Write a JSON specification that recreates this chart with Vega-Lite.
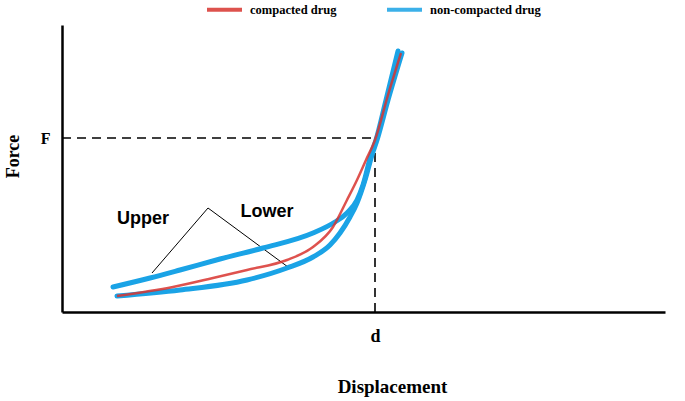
{
  "$schema": "https://vega.github.io/schema/vega-lite/v6.json",
  "width": 603,
  "height": 287,
  "autosize": "none",
  "padding": {"left": 62, "top": 25, "right": 20, "bottom": 89},
  "background": "white",
  "config": {"view": {"stroke": null}},
  "layer": [
    {
      "data": {"values": [
        {"x": 0, "x2": 313, "y": 174, "y2": 174},
        {"x": 313, "x2": 313, "y": 0, "y2": 174}
      ]},
      "mark": {"type": "rule", "strokeDash": [9, 6], "strokeWidth": 1.6, "color": "black"},
      "encoding": {
        "x": {"field": "x", "type": "quantitative",
          "scale": {"domain": [0, 603], "nice": false, "zero": false},
          "axis": {"values": [313], "labelExpr": "'d'", "ticks": false, "grid": false,
            "domainColor": "black", "domainWidth": 2.5,
            "labelFont": "Liberation Serif", "labelFontWeight": "bold", "labelFontSize": 18, "labelColor": "black", "labelPadding": 15,
            "title": "Displacement", "titleFont": "Liberation Serif", "titleFontWeight": "bold", "titleFontSize": 19, "titleColor": "black",
            "titleX": 330, "titleY": 80, "titleBaseline": "alphabetic", "titleAlign": "center"}},
        "x2": {"field": "x2"},
        "y": {"field": "y", "type": "quantitative",
          "scale": {"domain": [0, 287], "nice": false, "zero": false},
          "axis": {"values": [174], "labelExpr": "'F'", "ticks": false, "grid": false,
            "domainColor": "black", "domainWidth": 2.5,
            "labelFont": "Liberation Serif", "labelFontWeight": "bold", "labelFontSize": 16, "labelColor": "black", "labelPadding": 12,
            "title": "Force", "titleFont": "Liberation Serif", "titleFontWeight": "bold", "titleFontSize": 18, "titleColor": "black",
            "titleAngle": -90, "titleX": -40, "titleY": 131, "titleBaseline": "bottom", "titleAlign": "center"}},
        "y2": {"field": "y2"}
      }
    },
    {
      "data": {"values": [
        {"x": 146, "y": 104, "x2": 90, "y2": 39},
        {"x": 146, "y": 104, "x2": 226, "y2": 45}
      ]},
      "mark": {"type": "rule", "strokeWidth": 1, "color": "black"},
      "encoding": {
        "x": {"field": "x", "type": "quantitative"},
        "x2": {"field": "x2"},
        "y": {"field": "y", "type": "quantitative"},
        "y2": {"field": "y2"}
      }
    },
    {
      "data": {"values": [
        {"series": "non-compacted drug", "curve": "upper", "i": 1, "x": 51, "y": 25},
        {"series": "non-compacted drug", "curve": "upper", "i": 2, "x": 88, "y": 34},
        {"series": "non-compacted drug", "curve": "upper", "i": 3, "x": 118, "y": 42},
        {"series": "non-compacted drug", "curve": "upper", "i": 4, "x": 158, "y": 53},
        {"series": "non-compacted drug", "curve": "upper", "i": 5, "x": 201, "y": 64},
        {"series": "non-compacted drug", "curve": "upper", "i": 6, "x": 251, "y": 79},
        {"series": "non-compacted drug", "curve": "upper", "i": 7, "x": 273, "y": 90},
        {"series": "non-compacted drug", "curve": "upper", "i": 8, "x": 285, "y": 99},
        {"series": "non-compacted drug", "curve": "upper", "i": 9, "x": 295, "y": 112},
        {"series": "non-compacted drug", "curve": "upper", "i": 10, "x": 301, "y": 127},
        {"series": "non-compacted drug", "curve": "upper", "i": 11, "x": 309, "y": 157},
        {"series": "non-compacted drug", "curve": "upper", "i": 12, "x": 314, "y": 172},
        {"series": "non-compacted drug", "curve": "upper", "i": 13, "x": 324, "y": 212},
        {"series": "non-compacted drug", "curve": "upper", "i": 14, "x": 336, "y": 261},
        {"series": "non-compacted drug", "curve": "lower", "i": 1, "x": 55, "y": 16},
        {"series": "non-compacted drug", "curve": "lower", "i": 2, "x": 118, "y": 22},
        {"series": "non-compacted drug", "curve": "lower", "i": 3, "x": 185, "y": 32},
        {"series": "non-compacted drug", "curve": "lower", "i": 4, "x": 225, "y": 44},
        {"series": "non-compacted drug", "curve": "lower", "i": 5, "x": 251, "y": 55},
        {"series": "non-compacted drug", "curve": "lower", "i": 6, "x": 268, "y": 67},
        {"series": "non-compacted drug", "curve": "lower", "i": 7, "x": 278, "y": 79},
        {"series": "non-compacted drug", "curve": "lower", "i": 8, "x": 288, "y": 95},
        {"series": "non-compacted drug", "curve": "lower", "i": 9, "x": 295, "y": 109},
        {"series": "non-compacted drug", "curve": "lower", "i": 10, "x": 303, "y": 132},
        {"series": "non-compacted drug", "curve": "lower", "i": 11, "x": 310, "y": 157},
        {"series": "non-compacted drug", "curve": "lower", "i": 12, "x": 315, "y": 172},
        {"series": "non-compacted drug", "curve": "lower", "i": 13, "x": 326, "y": 212},
        {"series": "non-compacted drug", "curve": "lower", "i": 14, "x": 340, "y": 259}
      ]},
      "mark": {"type": "line", "strokeWidth": 5, "interpolate": "monotone", "strokeCap": "round"},
      "encoding": {
        "x": {"field": "x", "type": "quantitative"},
        "y": {"field": "y", "type": "quantitative"},
        "detail": {"field": "curve"},
        "order": {"field": "i"},
        "color": {"field": "series", "type": "nominal",
          "scale": {"domain": ["compacted drug", "non-compacted drug"], "range": ["#d8342f", "#1aa3e6"]},
          "legend": {"orient": "none", "direction": "horizontal", "legendX": 143, "legendY": -35,
            "title": null, "symbolType": "stroke", "symbolSize": 1225, "symbolStrokeWidth": 4,
            "labelFont": "Liberation Serif", "labelFontWeight": "bold", "labelFontSize": 12.5, "labelColor": "black",
            "labelOffset": 6, "columnPadding": 42}}
      }
    },
    {
      "data": {"values": [
        {"series": "compacted drug", "i": 1, "x": 55, "y": 16},
        {"series": "compacted drug", "i": 2, "x": 111, "y": 25},
        {"series": "compacted drug", "i": 3, "x": 151, "y": 34},
        {"series": "compacted drug", "i": 4, "x": 185, "y": 42},
        {"series": "compacted drug", "i": 5, "x": 225, "y": 52},
        {"series": "compacted drug", "i": 6, "x": 251, "y": 65},
        {"series": "compacted drug", "i": 7, "x": 271, "y": 85},
        {"series": "compacted drug", "i": 8, "x": 285, "y": 112},
        {"series": "compacted drug", "i": 9, "x": 295, "y": 132},
        {"series": "compacted drug", "i": 10, "x": 304, "y": 152},
        {"series": "compacted drug", "i": 11, "x": 313, "y": 172},
        {"series": "compacted drug", "i": 12, "x": 326, "y": 217},
        {"series": "compacted drug", "i": 13, "x": 339, "y": 259}
      ]},
      "mark": {"type": "line", "strokeWidth": 2.5, "interpolate": "monotone", "opacity": 0.85},
      "encoding": {
        "x": {"field": "x", "type": "quantitative"},
        "y": {"field": "y", "type": "quantitative"},
        "order": {"field": "i"},
        "color": {"field": "series", "type": "nominal"}
      }
    },
    {
      "data": {"values": [
        {"label": "Upper", "x": 81, "y": 93},
        {"label": "Lower", "x": 205, "y": 100}
      ]},
      "mark": {"type": "text", "font": "Liberation Sans", "fontWeight": "bold", "fontSize": 18, "color": "black", "align": "center", "baseline": "middle"},
      "encoding": {
        "x": {"field": "x", "type": "quantitative"},
        "y": {"field": "y", "type": "quantitative"},
        "text": {"field": "label"}
      }
    }
  ]
}
